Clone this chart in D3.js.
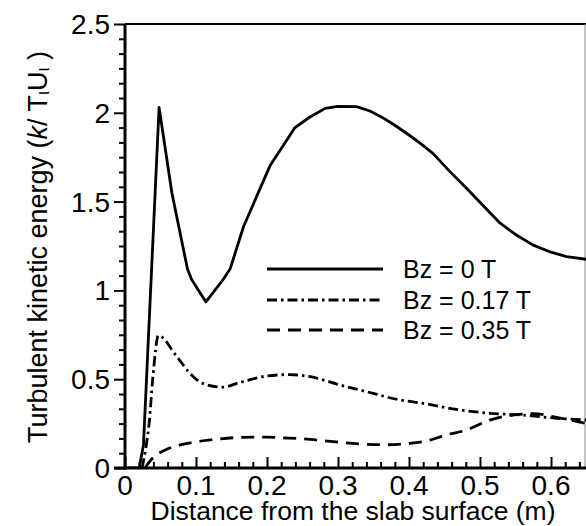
<!DOCTYPE html>
<html><head><meta charset="utf-8">
<script src="https://cdn.jsdelivr.net/npm/d3@7"></script>
<style>
body{margin:0;background:#fff;}
text{font-family:"Liberation Sans",Arial,sans-serif;fill:#000;}
</style></head>
<body><svg id="c" width="586" height="526"></svg>
<script>
// Data
const seriesNames = ["Bz = 0 T", "Bz = 0.17 T", "Bz = 0.35 T"];
const x0 = [0, 0.02, 0.026, 0.048, 0.066, 0.088, 0.094, 0.114, 0.138, 0.148, 0.167, 0.204, 0.239, 0.26, 0.282, 0.30, 0.326, 0.345, 0.364, 0.38, 0.40, 0.417, 0.434, 0.455, 0.481, 0.505, 0.528, 0.55, 0.575, 0.60, 0.622, 0.65];
const y0 = [0, 0, 0.13, 2.03, 1.55, 1.12, 1.06, 0.935, 1.06, 1.12, 1.36, 1.70, 1.915, 1.975, 2.025, 2.036, 2.035, 2.01, 1.97, 1.93, 1.875, 1.825, 1.77, 1.68, 1.575, 1.475, 1.38, 1.315, 1.255, 1.215, 1.19, 1.175];
const x17 = [0.024, 0.0296, 0.034, 0.039, 0.047, 0.073, 0.09, 0.11, 0.138, 0.162, 0.2, 0.232, 0.261, 0.303, 0.34, 0.385, 0.42, 0.467, 0.514, 0.561, 0.608, 0.65];
const y17 = [0, 0.12, 0.25, 0.5, 0.745, 0.627, 0.54, 0.475, 0.455, 0.482, 0.518, 0.526, 0.514, 0.467, 0.43, 0.385, 0.364, 0.33, 0.308, 0.298, 0.28, 0.27];
const x35 = [0.028, 0.04, 0.056, 0.09, 0.12, 0.162, 0.2, 0.228, 0.261, 0.293, 0.331, 0.369, 0.40, 0.42, 0.453, 0.481, 0.514, 0.538, 0.575, 0.608, 0.65];
const y35 = [0, 0.06, 0.1, 0.14, 0.158, 0.172, 0.174, 0.169, 0.161, 0.148, 0.135, 0.131, 0.138, 0.148, 0.186, 0.214, 0.27, 0.293, 0.306, 0.285, 0.25];
const xTicks = [0, 0.1, 0.2, 0.3, 0.4, 0.5, 0.6];
const xTickLabels = ["0", "0.1", "0.2", "0.3", "0.4", "0.5", "0.6"];
const yTicks = [0, 0.5, 1, 1.5, 2, 2.5];
const yTickLabels = ["0", "0.5", "1", "1.5", "2", "2.5"];

const L = 125, R = 585, T = 24, B = 468;
const svg = d3.select("#c");
const x = d3.scaleLinear().domain([0, 0.65]).range([L, L + 0.65 * 710]);
const y = d3.scaleLinear().domain([0, 2.5]).range([B, T]);

svg.append("defs").append("clipPath").attr("id", "clip")
  .append("rect").attr("x", L).attr("y", T).attr("width", R - L + 2).attr("height", B - T);

// frame top and right
svg.append("line").attr("x1", L).attr("x2", 586).attr("y1", T).attr("y2", T).attr("stroke", "#000").attr("stroke-width", 2);
svg.append("line").attr("x1", R).attr("x2", R).attr("y1", T).attr("y2", B).attr("stroke", "#888").attr("stroke-width", 1);

function clean(g) { g.selectAll(".domain").remove(); g.selectAll("text").remove(); g.selectAll(".tick line").attr("stroke-width", 2); }

// x axis: ticks pointing inward (up)
const xMinor = d3.range(0, 0.65, 0.02).filter(v => Math.abs(v * 10 - Math.round(v * 10)) > 1e-6);
svg.append("g").attr("transform", `translate(0,${B})`)
  .call(d3.axisTop(x).tickValues(xMinor).tickSize(6)).call(clean);
svg.append("g").attr("transform", `translate(0,${B})`)
  .call(d3.axisTop(x).tickValues(xTicks).tickSize(11)).call(clean);
svg.append("g").selectAll("text").data(xTicks).join("text")
  .attr("x", d => x(d)).attr("y", 495).attr("text-anchor", "middle")
  .attr("font-size", 28).text((d, i) => xTickLabels[i]);

// y axis: ticks outward (left)
const yMinor = d3.range(0, 2.5001, 0.5 / 6).filter(v => Math.abs(v * 2 - Math.round(v * 2)) > 1e-6);
svg.append("g").attr("transform", `translate(${L},0)`)
  .call(d3.axisLeft(y).tickValues(yMinor).tickSize(6)).call(clean);
svg.append("g").attr("transform", `translate(${L},0)`)
  .call(d3.axisLeft(y).tickValues(yTicks).tickSize(11)).call(clean);
svg.append("g").selectAll("text").data(yTicks).join("text")
  .attr("x", 110).attr("y", d => y(d) + 10).attr("text-anchor", "end")
  .attr("font-size", 28).text((d, i) => yTickLabels[i]);

// axis lines
svg.append("line").attr("x1", 114).attr("x2", 586).attr("y1", B).attr("y2", B).attr("stroke", "#000").attr("stroke-width", 3);
svg.append("line").attr("x1", L).attr("x2", L).attr("y1", T).attr("y2", B + 1.5).attr("stroke", "#000").attr("stroke-width", 3);

// titles
svg.append("text").attr("x", 353).attr("y", 520).attr("text-anchor", "middle").attr("font-size", 26.5)
  .text("Distance from the slab surface (m)");
const yt = svg.append("text").attr("transform", "translate(47,247) rotate(-90)").attr("text-anchor", "middle").attr("font-size", 27);
yt.append("tspan").text("Turbulent kinetic energy (");
yt.append("tspan").attr("font-style", "italic").text("k");
yt.append("tspan").text("/ T");
yt.append("tspan").attr("font-size", 18).attr("dy", 2).text("ι");
yt.append("tspan").attr("dy", -2).text("U");
yt.append("tspan").attr("font-size", 18).attr("dy", 2).text("ι");
yt.append("tspan").attr("dy", -2).text(" )");

// curves
const styles = ["none", "10,4,2.5,4", "13,8"];
const data = [d3.zip(x0, y0), d3.zip(x17, y17), d3.zip(x35, y35)];
const line = d3.line().x(d => x(d[0])).y(d => y(d[1]));
const lineS = d3.line().x(d => x(d[0])).y(d => y(d[1])).curve(d3.curveMonotoneX);
const gc = svg.append("g").attr("clip-path", "url(#clip)");
data.forEach((d, i) => {
  gc.append("path").attr("d", i === 0 ? line(d) : lineS(d)).attr("fill", "none").attr("stroke", "#000")
    .attr("stroke-width", 2.8).attr("stroke-linejoin", "round")
    .attr("stroke-dasharray", styles[i]);
});

// legend
const legY = [269, 300, 330];
seriesNames.forEach((n, i) => {
  svg.append("line").attr("x1", 267).attr("x2", 383).attr("y1", legY[i]).attr("y2", legY[i])
    .attr("stroke", "#000").attr("stroke-width", 2.8).attr("stroke-dasharray", styles[i]);
  svg.append("text").attr("x", 403).attr("y", legY[i] + 9).attr("font-size", 25).text(n);
});
</script></body></html>
